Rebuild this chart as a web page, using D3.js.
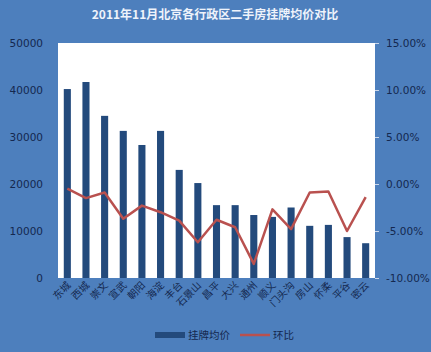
<!DOCTYPE html>
<html><head><meta charset="utf-8">
<script src="https://cdn.jsdelivr.net/npm/d3@7"></script>
<style>
html,body{margin:0;padding:0;background:#4d7fbd;}
svg{display:block;}
text{font-family:"Noto Sans CJK SC","DejaVu Sans",sans-serif;}
</style></head>
<body>
<svg id="chart" width="431" height="352"></svg>
<script>
const categories = ["东城","西城","崇文","宣武","朝阳","海淀","丰台","石景山","昌平","大兴","通州","顺义","门头沟","房山","怀柔","平谷","密云"];
const priceValues = [40200,41700,34500,31300,28300,31300,23000,20200,15500,15500,13400,13000,15000,11100,11300,8700,7400];
const momValues = [-0.5,-1.5,-0.9,-3.7,-2.3,-3.0,-3.9,-6.2,-3.8,-4.6,-8.5,-2.7,-4.8,-0.9,-0.8,-5.0,-1.4];
const leftTicks = [0,10000,20000,30000,40000,50000];
const rightTicks = [-10,-5,0,5,10,15];
const title = "2011年11月北京各行政区二手房挂牌均价对比";
const legendLabels = ["挂牌均价","环比"];

const svg = d3.select("#chart");
const W = 431, H = 352;
const plot = {l:58, r:375, t:43, b:278};

svg.append("rect").attr("width",W).attr("height",H).attr("fill","#4d7fbd");
svg.append("rect").attr("x",plot.l).attr("y",plot.t).attr("width",plot.r-plot.l).attr("height",plot.b-plot.t).attr("fill","#ffffff");

const x = d3.scaleBand().domain(categories).range([plot.l, plot.r]).paddingInner(0.62).paddingOuter(0.31);
const yL = d3.scaleLinear().domain([0,50000]).range([plot.b, plot.t]);
const yR = d3.scaleLinear().domain([-10,15]).range([plot.b, plot.t]);

svg.append("text").attr("x",215).attr("y",19).attr("text-anchor","middle")
  .attr("fill","#eef3fb").attr("font-size",12).attr("font-weight","bold")
  .style("font-family","'Noto Sans CJK SC',serif").text(title);

// bars
svg.append("g").selectAll("rect").data(categories).join("rect")
  .attr("x",d=>x(d)).attr("width",x.bandwidth())
  .attr("y",(d,i)=>yL(priceValues[i])).attr("height",(d,i)=>plot.b-yL(priceValues[i]))
  .attr("fill","#234a7c");

// line
const line = d3.line().x((d,i)=>x(categories[i])+x.bandwidth()/2).y(d=>yR(d));
svg.append("path").datum(momValues).attr("d",line).attr("fill","none")
  .attr("stroke","#b9514f").attr("stroke-width",2.5).attr("stroke-linejoin","round");

// left axis
const axL = d3.axisLeft(yL).tickValues(leftTicks).tickSize(0).tickPadding(0).tickFormat(d3.format("d"));
const gL = svg.append("g").attr("transform",`translate(43,0)`).call(axL);
gL.select(".domain").remove();
gL.selectAll("text").attr("fill","#14284f").attr("font-size",10.5).style("font-family","'DejaVu Sans',sans-serif");

// right axis
const axR = d3.axisRight(yR).tickValues(rightTicks).tickSize(4).tickPadding(7).tickFormat(d=>d.toFixed(2)+"%");
const gR = svg.append("g").attr("transform",`translate(${plot.r},0)`).call(axR);
gR.select(".domain").remove();
gR.selectAll("line").attr("stroke","#c9d6ea");
gR.selectAll("text").attr("fill","#14284f").attr("font-size",10.5).style("font-family","'DejaVu Sans',sans-serif");

// x axis labels
const axX = d3.axisBottom(x).tickSize(0).tickPadding(0);
const gX = svg.append("g").attr("transform",`translate(0,${plot.b})`).call(axX);
gX.select(".domain").remove();
gX.selectAll("text").attr("fill","#14284f").attr("font-size",10)
  .attr("text-anchor","end").attr("dy",0).attr("y",0)
  .attr("transform","translate(4,8) rotate(-45)");

// legend
const lg = svg.append("g");
lg.append("rect").attr("x",155).attr("y",332).attr("width",30).attr("height",6).attr("fill","#234a7c");
lg.append("text").attr("x",188).attr("y",339).attr("fill","#14284f").attr("font-size",10.5).text(legendLabels[0]);
lg.append("line").attr("x1",240).attr("x2",270).attr("y1",335).attr("y2",335).attr("stroke","#b9514f").attr("stroke-width",2.5);
lg.append("text").attr("x",273).attr("y",339).attr("fill","#14284f").attr("font-size",10.5).text(legendLabels[1]);
</script>
</body></html>
